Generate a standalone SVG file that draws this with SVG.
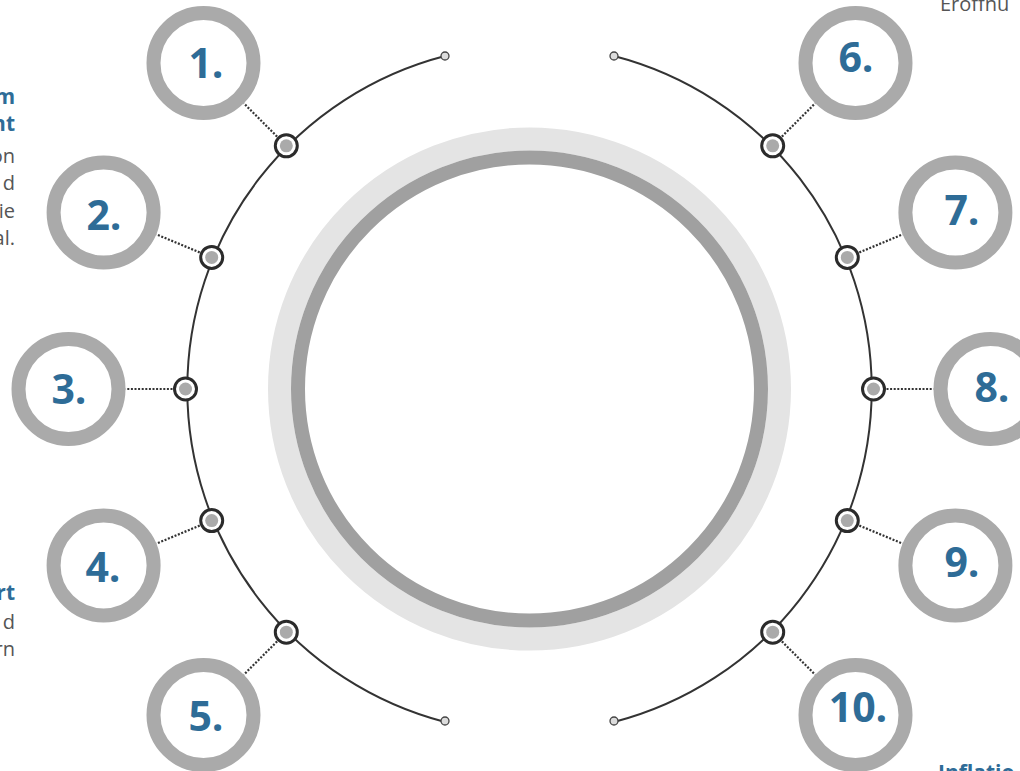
<svg xmlns="http://www.w3.org/2000/svg" width="1020" height="771" viewBox="0 0 1020 771">
<style>
.ring{fill:#fff;stroke:#aaaaaa;stroke-width:14}
.num{font-family:"Open Sans","Liberation Sans",sans-serif;font-weight:700;font-size:41px;fill:#2e6c97;text-anchor:middle}
.arc{fill:none;stroke:#333;stroke-width:2}
.dot{stroke:#333;stroke-width:2.2;stroke-dasharray:2 1.6}
.nodeo{fill:#fff;stroke:#2b2b2b;stroke-width:3}
.nodei{fill:#aaaaaa}
.end{fill:#dcdcdc;stroke:#444;stroke-width:1.3}
.tt{font-family:"Open Sans","Liberation Sans",sans-serif;font-weight:700;font-size:21px;fill:#2e6c97}
.tb{font-family:"Open Sans","Liberation Sans",sans-serif;font-size:20px;fill:#555}
</style>
<rect width="1020" height="771" fill="#fff"/>
<g id="center">
<circle cx="529.5" cy="389" r="250" fill="none" stroke="#e4e4e4" stroke-width="23"/>
<circle cx="529.5" cy="389" r="231.5" fill="#fff" stroke="#a0a0a0" stroke-width="14"/>
</g>
<g id="connectors">
<path class="arc" d="M445 56 A344 344 0 0 0 445 722"/>
<path class="arc" d="M614 56 A344 344 0 0 1 614 722"/>
<line class="dot" x1="277.1" y1="136.6" x2="243.8" y2="103.3"/>
<line class="dot" x1="199.7" y1="252.4" x2="156.3" y2="234.4"/>
<line class="dot" x1="172.5" y1="389" x2="125.5" y2="389"/>
<line class="dot" x1="199.7" y1="525.6" x2="156.3" y2="543.6"/>
<line class="dot" x1="277.1" y1="641.4" x2="243.8" y2="674.7"/>
<line class="dot" x1="781.9" y1="136.6" x2="815.2" y2="103.3"/>
<line class="dot" x1="859.3" y1="252.4" x2="902.7" y2="234.4"/>
<line class="dot" x1="886.5" y1="389" x2="933.5" y2="389"/>
<line class="dot" x1="859.3" y1="525.6" x2="902.7" y2="543.6"/>
<line class="dot" x1="781.9" y1="641.4" x2="815.2" y2="674.7"/>
<circle class="end" cx="445" cy="56" r="4"/>
<circle class="end" cx="445" cy="721" r="4"/>
<circle class="end" cx="614" cy="56" r="4"/>
<circle class="end" cx="614" cy="721" r="4"/>
</g>
<g id="nodes-dots">
<g><circle class="nodeo" cx="286.3" cy="145.8" r="11"/><circle class="nodei" cx="286.3" cy="145.8" r="6.5"/></g>
<g><circle class="nodeo" cx="211.7" cy="257.4" r="11"/><circle class="nodei" cx="211.7" cy="257.4" r="6.5"/></g>
<g><circle class="nodeo" cx="185.5" cy="389" r="11"/><circle class="nodei" cx="185.5" cy="389" r="6.5"/></g>
<g><circle class="nodeo" cx="211.7" cy="520.6" r="11"/><circle class="nodei" cx="211.7" cy="520.6" r="6.5"/></g>
<g><circle class="nodeo" cx="286.3" cy="632.2" r="11"/><circle class="nodei" cx="286.3" cy="632.2" r="6.5"/></g>
<g><circle class="nodeo" cx="772.7" cy="145.8" r="11"/><circle class="nodei" cx="772.7" cy="145.8" r="6.5"/></g>
<g><circle class="nodeo" cx="847.3" cy="257.4" r="11"/><circle class="nodei" cx="847.3" cy="257.4" r="6.5"/></g>
<g><circle class="nodeo" cx="873.5" cy="389" r="11"/><circle class="nodei" cx="873.5" cy="389" r="6.5"/></g>
<g><circle class="nodeo" cx="847.3" cy="520.6" r="11"/><circle class="nodei" cx="847.3" cy="520.6" r="6.5"/></g>
<g><circle class="nodeo" cx="772.7" cy="632.2" r="11"/><circle class="nodei" cx="772.7" cy="632.2" r="6.5"/></g>
</g>
<g id="n1"><circle class="ring" cx="203.5" cy="63" r="50"/><text class="num" x="206" y="78">1.</text></g>
<g id="n2"><circle class="ring" cx="103.6" cy="212.6" r="50"/><text class="num" x="104" y="230">2.</text></g>
<g id="n3"><circle class="ring" cx="68.5" cy="389" r="50"/><text class="num" x="69" y="404">3.</text></g>
<g id="n4"><circle class="ring" cx="103.6" cy="565.4" r="50"/><text class="num" x="103" y="582">4.</text></g>
<g id="n5"><circle class="ring" cx="203.5" cy="715" r="50"/><text class="num" x="206" y="731">5.</text></g>
<g id="n6"><circle class="ring" cx="855.5" cy="63" r="50"/><text class="num" x="856" y="72">6.</text></g>
<g id="n7"><circle class="ring" cx="955.4" cy="212.6" r="50"/><text class="num" x="962" y="225">7.</text></g>
<g id="n8"><circle class="ring" cx="990.5" cy="389" r="50"/><text class="num" x="992" y="402">8.</text></g>
<g id="n9"><circle class="ring" cx="955.4" cy="565.4" r="50"/><text class="num" x="962" y="577">9.</text></g>
<g id="n10"><circle class="ring" cx="855.5" cy="715" r="50"/><text class="num" x="858" y="722">10.</text></g>
<g id="text-left-top">
<text class="tt" x="15" y="104" text-anchor="end">m</text>
<text class="tt" x="15" y="131" text-anchor="end">nt</text>
<text class="tb" x="15" y="163" text-anchor="end">on</text>
<text class="tb" x="15" y="190" text-anchor="end">d</text>
<text class="tb" x="15" y="218" text-anchor="end">ie</text>
<text class="tb" x="15" y="245" text-anchor="end">al.</text>
</g>
<g id="text-left-bottom">
<text class="tt" x="15" y="600" text-anchor="end">rt</text>
<text class="tb" x="15" y="629" text-anchor="end">d</text>
<text class="tb" x="15" y="656" text-anchor="end">rn</text>
</g>
<g id="text-right">
<text class="tb" x="940" y="11">Eröffnu</text>
<text class="tt" x="938" y="780">Inflatio</text>
</g>
</svg>
